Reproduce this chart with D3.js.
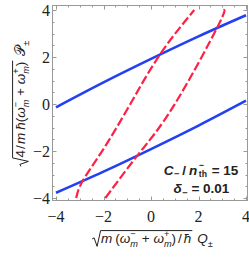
<!DOCTYPE html>
<html>
<head>
<meta charset="utf-8">
<script src="https://cdn.jsdelivr.net/npm/d3@7/dist/d3.min.js"></script>
<style>
body { margin: 0; background: #fff; }
svg text { white-space: pre; }
</style>
</head>
<body>
<svg id="chart" width="249" height="257"></svg>
<script>
// data
var xTicks = [-4, -2, 0, 2, 4];
var yTicks = [-4, -2, 0, 2, 4];

var blueX = [-4, -2, 0, 2, 4];
var blueUpperY = [-0.14, 0.92, 1.92, 2.88, 3.78];
var blueLowerY = [-3.78, -2.88, -1.92, -0.92, 0.14];

var redLeftX = [-3.15, -2.88, -2.03, -0.87, 0.38, 1.82];
var redLeftY = [-4, -3.28, -1.96, 0, 2.11, 4];
var redRightX = [-1.92, -0.5, 0.98, 2.79, 3.05];
var redRightY = [-4, -2.1, -0.04, 3.26, 4];

var svg = d3.select("#chart");

var x = d3.scaleLinear().domain([-4, 4]).range([56, 246]);
var y = d3.scaleLinear().domain([-4, 4]).range([198, 10]);

var frame = {left: 52.5, right: 247.5, top: 5.5, bottom: 200.5};

//frame
svg.append("rect")
	.attr("x", frame.left).attr("y", frame.top)
	.attr("width", frame.right - frame.left)
	.attr("height", frame.bottom - frame.top)
	.attr("fill", "none").attr("stroke", "#999").attr("stroke-width", 1);

//ticks on all four sides, major every 2, minor every 0.5
var minor = d3.range(-4, 4.01, 0.5);
minor.forEach(function(v) {
	var major = Math.abs(v % 2) < 1e-6;
	var len = major ? 4 : 2;
	var px = Math.round(x(v)) + 0.5, py = Math.round(y(v)) + 0.5;
	svg.append("line").attr("x1", px).attr("x2", px).attr("y1", frame.bottom).attr("y2", frame.bottom - len);
	svg.append("line").attr("x1", px).attr("x2", px).attr("y1", frame.top).attr("y2", frame.top + len);
	svg.append("line").attr("y1", py).attr("y2", py).attr("x1", frame.left).attr("x2", frame.left + len);
	svg.append("line").attr("y1", py).attr("y2", py).attr("x1", frame.right).attr("x2", frame.right - len);
});
svg.selectAll("line").attr("stroke", "#999").attr("stroke-width", 1);

//tick labels
function fmt(v) { return v < 0 ? "\u2212" + Math.abs(v) : String(v); }

svg.selectAll(".xt")
	.data(xTicks)
	.enter()
	.append("text")
	.attr("class", "xt")
	.attr("x", function(d) { return x(d); })
	.attr("y", 222)
	.attr("text-anchor", "middle")
	.attr("font-family", "Liberation Serif")
	.attr("font-size", 16)
	.attr("fill", "#222")
	.text(fmt);

svg.selectAll(".yt")
	.data(yTicks)
	.enter()
	.append("text")
	.attr("class", "yt")
	.attr("x", 50)
	.attr("y", function(d) { return y(d) + 5.5; })
	.attr("text-anchor", "end")
	.attr("font-family", "Liberation Serif")
	.attr("font-size", 16)
	.attr("fill", "#222")
	.text(fmt);

//curves
var line = d3.line()
	.x(function(d) { return x(d[0]); })
	.y(function(d) { return y(d[1]); })
	.curve(d3.curveNatural);

function pairs(xs, ys) { return xs.map(function(v, i) { return [v, ys[i]]; }); }

var plot = svg.append("g");

[blueUpperY, blueLowerY].forEach(function(ys) {
	plot.append("path")
		.attr("d", line(pairs(blueX, ys)))
		.attr("fill", "none")
		.attr("stroke", "#2340f5")
		.attr("stroke-width", 2.6);
});

[[redLeftX, redLeftY], [redRightX, redRightY]].forEach(function(c) {
	plot.append("path")
		.attr("d", line(pairs(c[0], c[1])))
		.attr("fill", "none")
		.attr("stroke", "#ff2045")
		.attr("stroke-width", 2.2)
		.attr("stroke-dasharray", "9,3");
});

//lay out a row of text pieces, returns its width
function layout(g, pieces, size, family, weight) {
	var cx = 0;
	pieces.forEach(function(p) {
		if (p.gap) { cx += p.gap; return; }
		if (p.sqrt) {
			var start = cx + 10;
			var sub = g.append("g").attr("transform", "translate(" + start + ",0)");
			var w = layout(sub, p.sqrt, size, family, weight);
			var top = -0.92 * size;
			g.append("path")
				.attr("d", "M" + (cx + 1) + "," + (-0.3 * size) + " L" + (cx + 3) + "," + (-0.38 * size)
					+ " L" + (cx + 6) + "," + (0.25 * size) + " L" + (cx + 9.5) + "," + top
					+ " L" + (start + w + 1) + "," + top)
				.attr("fill", "none").attr("stroke", "#222").attr("stroke-width", 1);
			cx = start + w + 1;
			return;
		}
		//stacked super/subscripts go in one text element as tspans
		var items = p.stack ? p.stack : [p];
		var t = g.append("text")
			.attr("font-family", family)
			.attr("font-weight", weight)
			.attr("fill", "#222");
		var w = 0;
		items.forEach(function(s) {
			var span = t.append("tspan")
				.attr("x", cx)
				.attr("y", (s.dy || 0) * size)
				.attr("font-size", s.dy ? size * (s.fs || 0.68) : size)
				.attr("font-style", s.it ? "italic" : null)
				.text(s.t);
			w = Math.max(w, span.node().getComputedTextLength());
		});
		cx += w;
	});
	return cx;
}

var omegaMinus = [{t: "\u03c9", it: true}, {stack: [{t: "\u2212", dy: -0.44}, {t: "m", it: true, dy: 0.3}]}];
var omegaPlus = [{t: "\u03c9", it: true}, {stack: [{t: "+", dy: -0.44}, {t: "m", it: true, dy: 0.3}]}];

//x axis label
var xLab = svg.append("g");
var xw = layout(xLab, [
	{sqrt: [{t: "m", it: true}, {gap: 3}, {t: "("}].concat(omegaMinus, [{t: " + "}], omegaPlus,
		[{t: ")"}, {gap: 2}, {t: "/"}, {gap: 2}, {t: "\u0127", it: true}])},
	{gap: 5}, {t: "Q", it: true}, {t: "\u00b1", dy: 0.28}
], 13.5, "Liberation Sans", "normal");
xLab.attr("transform", "translate(" + (152 - xw / 2) + ",243)");

//y axis label
var yLab = svg.append("g");
var yw = layout(yLab, [
	{sqrt: [{t: "4"}, {gap: 1}, {t: "/"}, {gap: 1}, {t: "m", it: true}, {gap: 3}, {t: "\u0127", it: true}, {t: "("}]
		.concat(omegaMinus, [{t: " + "}], omegaPlus, [{t: ")"}])},
	{gap: 5}, {t: "\ud835\udcab", it: false}, {t: "\u00b1", dy: 0.28}
], 13.5, "Liberation Sans", "normal");
yLab.attr("transform", "translate(25," + (104 + yw / 2) + ") rotate(-90)");

//annotation
var a1 = svg.append("g");
var w1 = layout(a1, [
	{t: "C", it: true}, {gap: 0.5}, {t: "\u2212", dy: 0.2}, {gap: 3}, {t: "/"}, {gap: 3}, {t: "n", it: true}, {gap: 1.5},
	{stack: [{t: "\u2212", dy: -0.5, fs: 0.64}, {t: "th", dy: 0.22, fs: 0.64}]}, {gap: 1}, {t: " = 15"}
], 13.5, "Liberation Sans", "bold");
a1.attr("transform", "translate(" + (201 - w1 / 2) + ",174.5)");

var a2 = svg.append("g");
var w2 = layout(a2, [
	{t: "\u03b4", it: true}, {gap: 0.5}, {t: "\u2212", dy: 0.2}, {t: " = 0.01"}
], 13.5, "Liberation Sans", "bold");
a2.attr("transform", "translate(" + (201.5 - w2 / 2) + ",193)");
</script>
</body>
</html>
